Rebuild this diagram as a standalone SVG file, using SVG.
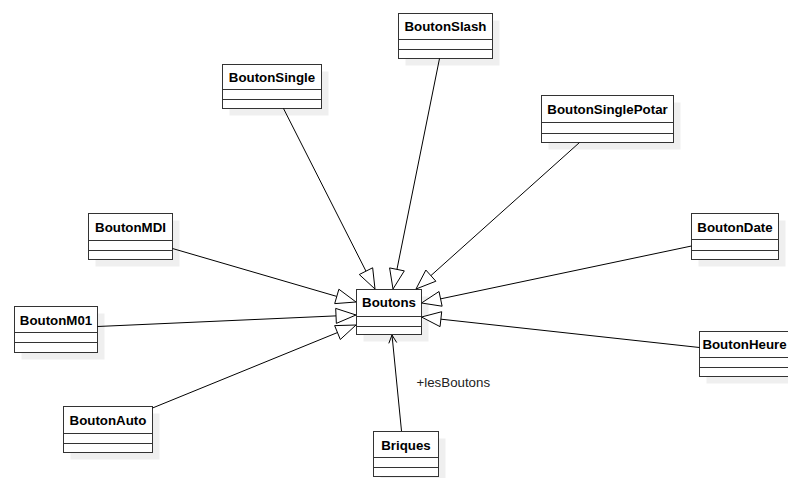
<svg xmlns="http://www.w3.org/2000/svg" width="788" height="478" viewBox="0 0 788 478">
  <style>
    .shadow { fill: #efefef; stroke: none; }
    .box { fill: #ffffff; stroke: #333333; stroke-width: 1; }
    .sep { stroke: #333333; stroke-width: 1; }
    .title { font-family: "Liberation Sans", Arial, Helvetica, sans-serif; font-size: 13.3px; font-weight: bold; fill: #000000; text-anchor: middle; }
    .edge { fill: none; stroke: #000000; stroke-width: 1; }
    .gen { fill: #ffffff; stroke: #000000; stroke-width: 1; stroke-linejoin: miter; }
    .label { font-family: "Liberation Sans", Arial, Helvetica, sans-serif; font-size: 13.3px; fill: #222222; }
  </style>
  <rect x="0" y="0" width="788" height="478" fill="#ffffff"/>

  <!-- classes -->
  <g id="BoutonSlash">
    <rect class="shadow" x="405.5" y="20.5" width="94" height="45"/>
    <rect class="box" x="398.5" y="13.5" width="94" height="45"/>
    <line class="sep" x1="398.5" y1="39.5" x2="492.5" y2="39.5"/>
    <line class="sep" x1="398.5" y1="49.5" x2="492.5" y2="49.5"/>
    <text class="title" x="445.5" y="31">BoutonSlash</text>
  </g>

  <g id="BoutonSingle">
    <rect class="shadow" x="229.5" y="71.5" width="99" height="44"/>
    <rect class="box" x="222.5" y="64.5" width="99" height="44"/>
    <line class="sep" x1="222.5" y1="89.5" x2="321.5" y2="89.5"/>
    <line class="sep" x1="222.5" y1="99.5" x2="321.5" y2="99.5"/>
    <text class="title" x="272" y="82">BoutonSingle</text>
  </g>

  <g id="BoutonSinglePotar">
    <rect class="shadow" x="548.5" y="102.5" width="132" height="47"/>
    <rect class="box" x="541.5" y="95.5" width="132" height="47"/>
    <line class="sep" x1="541.5" y1="122.5" x2="673.5" y2="122.5"/>
    <line class="sep" x1="541.5" y1="133.5" x2="673.5" y2="133.5"/>
    <text class="title" x="607.5" y="114">BoutonSinglePotar</text>
  </g>

  <g id="BoutonMDI">
    <rect class="shadow" x="95.5" y="220.5" width="84" height="46"/>
    <rect class="box" x="88.5" y="213.5" width="84" height="46"/>
    <line class="sep" x1="88.5" y1="240.5" x2="172.5" y2="240.5"/>
    <line class="sep" x1="88.5" y1="250.5" x2="172.5" y2="250.5"/>
    <text class="title" x="130.5" y="231.5">BoutonMDI</text>
  </g>

  <g id="BoutonM01">
    <rect class="shadow" x="21.5" y="313.5" width="83" height="46"/>
    <rect class="box" x="14.5" y="306.5" width="83" height="46"/>
    <line class="sep" x1="14.5" y1="332.5" x2="97.5" y2="332.5"/>
    <line class="sep" x1="14.5" y1="342.5" x2="97.5" y2="342.5"/>
    <text class="title" x="56" y="324.5">BoutonM01</text>
  </g>

  <g id="BoutonAuto">
    <rect class="shadow" x="70.5" y="413.5" width="89" height="46"/>
    <rect class="box" x="63.5" y="406.5" width="89" height="46"/>
    <line class="sep" x1="63.5" y1="433.5" x2="152.5" y2="433.5"/>
    <line class="sep" x1="63.5" y1="443.5" x2="152.5" y2="443.5"/>
    <text class="title" x="108" y="424.5">BoutonAuto</text>
  </g>

  <g id="Briques">
    <rect class="shadow" x="380.5" y="438.5" width="65" height="45"/>
    <rect class="box" x="373.5" y="431.5" width="65" height="45"/>
    <line class="sep" x1="373.5" y1="457.5" x2="438.5" y2="457.5"/>
    <line class="sep" x1="373.5" y1="467.5" x2="438.5" y2="467.5"/>
    <text class="title" x="406" y="449.5">Briques</text>
  </g>

  <g id="BoutonDate">
    <rect class="shadow" x="698.5" y="220.5" width="87" height="46"/>
    <rect class="box" x="691.5" y="213.5" width="87" height="46"/>
    <line class="sep" x1="691.5" y1="239.5" x2="778.5" y2="239.5"/>
    <line class="sep" x1="691.5" y1="250.5" x2="778.5" y2="250.5"/>
    <text class="title" x="735" y="231.5">BoutonDate</text>
  </g>

  <g id="BoutonHeure">
    <rect class="shadow" x="706.5" y="338.5" width="96" height="45"/>
    <rect class="box" x="699.5" y="331.5" width="96" height="45"/>
    <line class="sep" x1="699.5" y1="357.5" x2="795.5" y2="357.5"/>
    <line class="sep" x1="699.5" y1="367.5" x2="795.5" y2="367.5"/>
    <text class="title" x="744.5" y="349">BoutonHeure</text>
  </g>

  <g id="Boutons">
    <rect class="shadow" x="363.5" y="296.5" width="65" height="45"/>
    <rect class="box" x="356.5" y="289.5" width="65" height="45"/>
    <line class="sep" x1="356.5" y1="316.5" x2="421.5" y2="316.5"/>
    <line class="sep" x1="356.5" y1="326.5" x2="421.5" y2="326.5"/>
    <text class="title" x="389" y="307">Boutons</text>
  </g>

  <!-- relations: generalisations towards Boutons, association from Briques -->
  <g id="connectors">
    <!-- BoutonSingle -->
    <line class="edge" x1="283.5" y1="108.5" x2="365.98" y2="271.15"/>
    <polygon class="gen" points="375,289 372.67,267.77 359.29,274.53"/>
    <!-- BoutonSlash -->
    <line class="edge" x1="439.5" y1="58.5" x2="396.95" y2="269.39"/>
    <polygon class="gen" points="393,289 404.30,270.87 389.60,267.91"/>
    <!-- BoutonSinglePotar -->
    <line class="edge" x1="579.5" y1="142.5" x2="430.87" y2="275.63"/>
    <polygon class="gen" points="416,289 435.88,281.21 425.86,270.05"/>
    <!-- BoutonMDI -->
    <line class="edge" x1="172.5" y1="248.5" x2="336.79" y2="296.42"/>
    <polygon class="gen" points="356,302 334.70,303.62 338.88,289.22"/>
    <!-- BoutonM01 -->
    <line class="edge" x1="97.5" y1="326.5" x2="336.02" y2="315.89"/>
    <polygon class="gen" points="356,315 336.35,323.38 335.69,308.40"/>
    <!-- BoutonAuto -->
    <line class="edge" x1="152.5" y1="408" x2="337.48" y2="332.55"/>
    <polygon class="gen" points="356,325 340.31,339.49 334.65,325.61"/>
    <!-- BoutonDate -->
    <line class="edge" x1="691.5" y1="246" x2="440.57" y2="298.87"/>
    <polygon class="gen" points="421.5,303 442.12,306.21 439.02,291.53"/>
    <!-- BoutonHeure -->
    <line class="edge" x1="699.5" y1="347.5" x2="440.88" y2="319.18"/>
    <polygon class="gen" points="421.5,317 441.70,311.72 440.06,326.64"/>
    <!-- Briques navigates to Boutons -->
    <line class="edge" x1="401.5" y1="431" x2="392" y2="335"/>
    <path class="edge" d="M396.76,342.57 L392,335 L388.80,343.35"/>
    <text class="label" x="416.5" y="387">+lesBoutons</text>
  </g>
</svg>
